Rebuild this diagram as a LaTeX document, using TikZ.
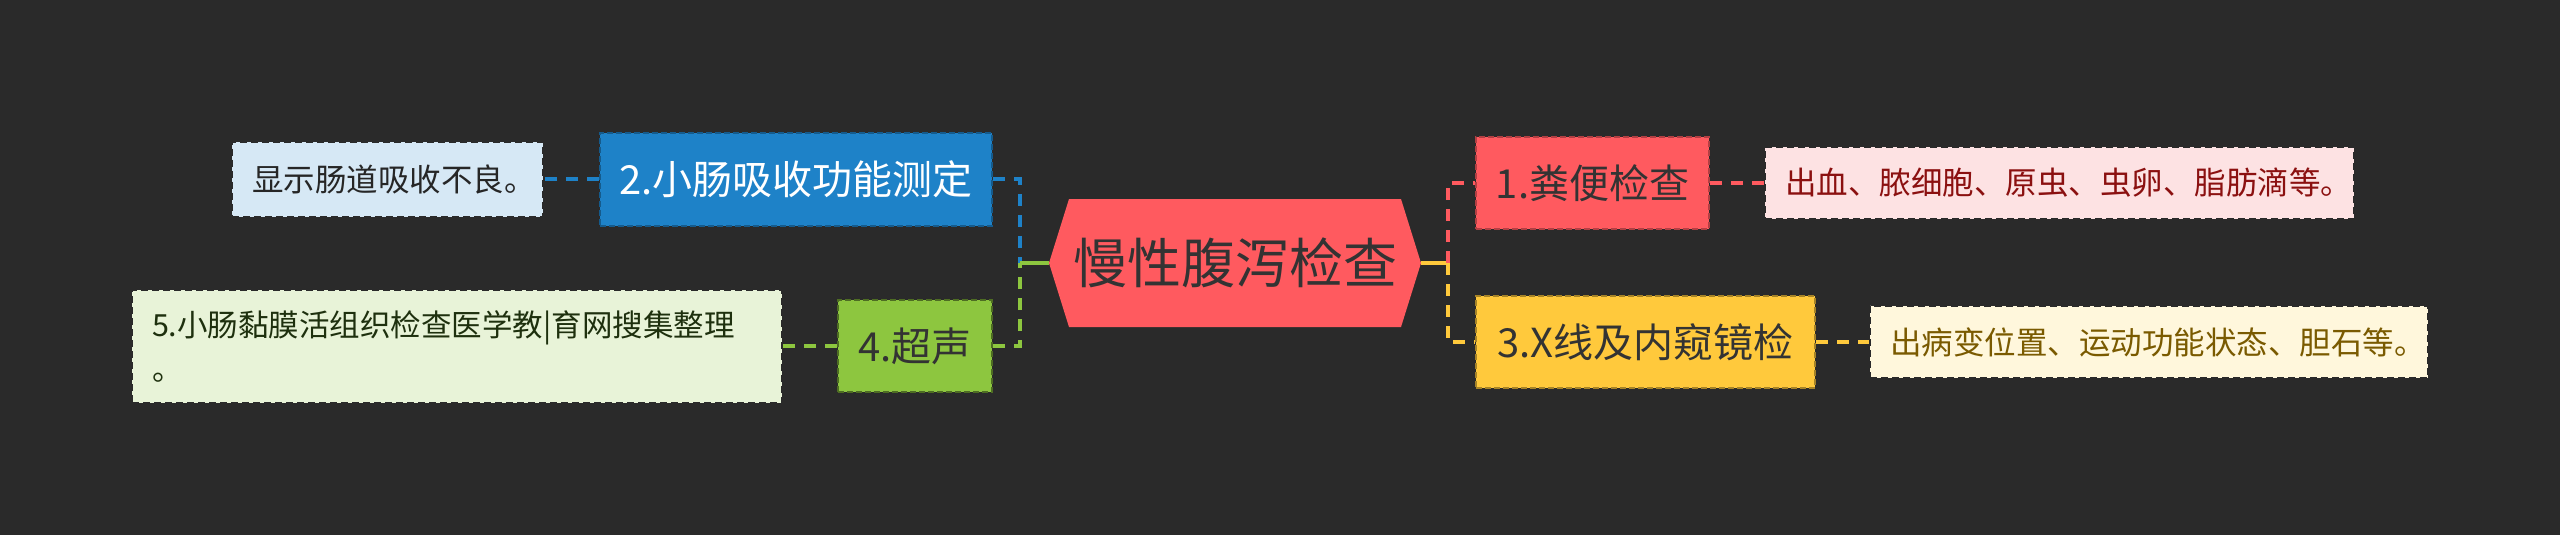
\documentclass[tikz,border=0pt]{standalone}
\usepackage{fontspec}
\setmainfont{Noto Sans CJK SC}
\begin{document}
\begin{tikzpicture}[x=1pt,y=-1pt]
\definecolor{bg}{HTML}{2A2A2A}
\definecolor{rootred}{HTML}{FF5A5F}
\definecolor{cblue}{HTML}{1E82C8}
\definecolor{cgreen}{HTML}{8DC63F}
\definecolor{cred}{HTML}{FF5A5F}
\definecolor{cyellow}{HTML}{FFC93C}
\definecolor{lblue}{HTML}{D6E8F5}
\definecolor{lgreen}{HTML}{E8F3D8}
\definecolor{lpink}{HTML}{FDE2E3}
\definecolor{lcream}{HTML}{FFF7DC}
\definecolor{darktext}{HTML}{333333}
\definecolor{pinktext}{HTML}{8B1010}
\definecolor{creamtext}{HTML}{7A5A00}
\definecolor{greentext}{HTML}{1E300E}
\tikzset{
  conn/.style={line width=3.5pt, dash pattern=on 12pt off 9pt},
  solidconn/.style={line width=3.5pt},
  lvone/.style={inner sep=0pt, dash pattern=on 6pt off 3pt, line width=2pt,
    font=\fontsize{40}{48}\selectfont, text=darktext},
  leafbox/.style={inner xsep=20pt, inner ysep=0pt, align=left,
    preaction={draw=white, line width=2pt},
    draw=bg, line width=2pt, dash pattern=on 7pt off 4pt,
    font=\fontsize{31.5}{44}\selectfont},
}
\fill[bg] (0,0) rectangle (2560,535);
\useasboundingbox (0,0) rectangle (2560,535);

% root
\node[minimum width=372pt, minimum height=128pt, inner sep=0pt,
  font=\fontsize{54}{60}\selectfont, text=darktext,
  path picture={\fill[rootred] (path picture bounding box.west)
    -- ([xshift=20pt]path picture bounding box.north west)
    -- ([xshift=-20pt]path picture bounding box.north east)
    -- (path picture bounding box.east)
    -- ([xshift=-20pt]path picture bounding box.south east)
    -- ([xshift=20pt]path picture bounding box.south west) -- cycle;}]
  (root) at (1235,263) {慢性腹泻检查};

\coordinate (ltrunk) at (1020,263);
\coordinate (rtrunk) at (1448,263);

% level one
\node[lvone, fill=cblue, draw=cblue!70!black, text=white,
  minimum width=392pt, minimum height=93pt]
  (b2) at (796,179) {2.小肠吸收功能测定};
\node[lvone, fill=cgreen, draw=cgreen!55!black, minimum width=154pt, minimum height=92pt]
  (g4) at (915,346) {4.超声};
\node[lvone, fill=rootred, draw=rootred!70!black, minimum width=233pt, minimum height=92pt]
  (r1) at (1592.5,183) {1.粪便检查};
\node[lvone, fill=cyellow, draw=cyellow!65!black, minimum width=339pt, minimum height=92pt]
  (y3) at (1645.5,342) {3.X线及内窥镜检};

% leaves
\node[leafbox, fill=lblue, text=black!85, text width=271pt, minimum height=75pt]
  (lb) at (387.5,179) {显示肠道吸收不良。};
\node[leafbox, fill=lgreen, text=greentext, text width=610pt, minimum height=113pt,
  font=\fontsize{30.5}{44}\selectfont]
  (lg) at (457,346.5) {5.小肠黏膜活组织检查医学教|育网搜集整理\\。};
\node[leafbox, fill=lpink, text=pinktext, text width=549pt, minimum height=72pt]
  (lp) at (2059.5,183) {出血、脓细胞、原虫、虫卵、脂肪滴等。};
\node[leafbox, fill=lcream, text=creamtext, text width=518pt, minimum height=72pt]
  (lc) at (2149,342) {出病变位置、运动功能状态、胆石等。};

% connectors
\draw[conn, cblue] (b2.east) -| (ltrunk);
\draw[conn, cgreen] (g4.east) -| (ltrunk);
\draw[solidconn, cgreen] (ltrunk) -- (root.west);
\draw[solidconn, cyellow] (root.east) -- (rtrunk);
\draw[conn, cred] (rtrunk) |- (r1.west);
\draw[conn, cyellow] (rtrunk) |- (y3.west);
\draw[conn, cblue] (b2.west) -- (b2.west -| lb.east);
\draw[conn, cgreen] (g4.west) -- (g4.west -| lg.east);
\draw[conn, cred] (r1.east) -- (r1.east -| lp.west);
\draw[conn, cyellow] (y3.east) -- (y3.east -| lc.west);
\end{tikzpicture}
\end{document}
